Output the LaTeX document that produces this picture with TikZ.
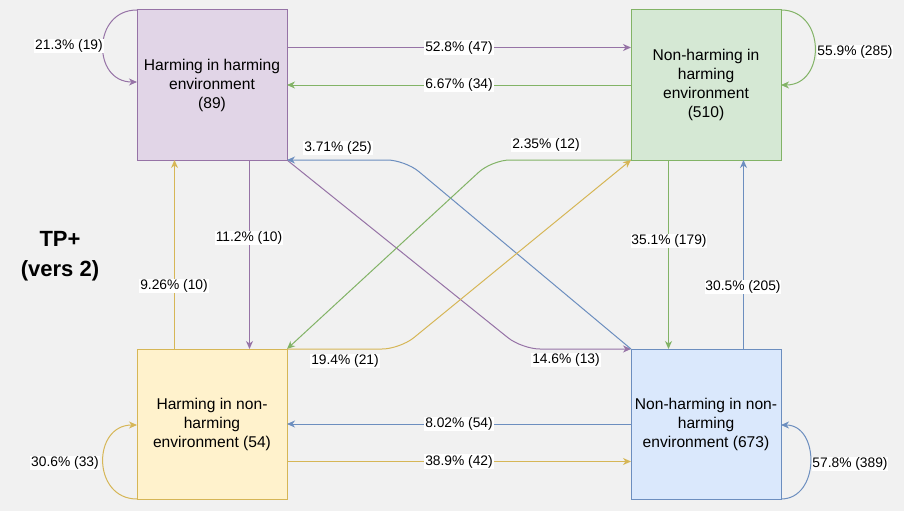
\documentclass[tikz,border=0pt]{standalone}
\usepackage{fontspec}
\setmainfont{Liberation Sans}
\usetikzlibrary{arrows.meta,calc}
\definecolor{bgc}{HTML}{F1F1F1}
\definecolor{pfill}{HTML}{E1D5E7}\definecolor{pline}{HTML}{9673A6}
\definecolor{gfill}{HTML}{D5E8D4}\definecolor{gline}{HTML}{82B366}
\definecolor{yfill}{HTML}{FFF2CC}\definecolor{yline}{HTML}{D6B656}
\definecolor{bfill}{HTML}{DAE8FC}\definecolor{bline}{HTML}{6C8EBF}
\tikzset{
  box/.style={draw, line width=1pt, minimum width=150pt, minimum height=150pt, outer sep=0pt, inner sep=0pt,
    align=center, font=\fontsize{15.6}{19}\selectfont},
  edge/.style={line width=1pt, -{Stealth[length=8pt,width=7pt,inset=2.5pt]}},
  lab/.style={fill=white, inner sep=0.8pt, font=\fontsize{13.8}{16}\selectfont},
}
\begin{document}
\begin{tikzpicture}[x=1pt,y=-1pt]
\fill[bgc] (0,0) rectangle (904,511);
\useasboundingbox (0,0) rectangle (904,511);

\node[box, fill=pfill, draw=pline] (a) at (212,85) {Harming in harming\\environment\\(89)};
\node[box, fill=gfill, draw=gline] (b) at (706,85) {Non-harming in\\harming\\environment\\(510)};
\node[box, fill=yfill, draw=yline] (c) at (212,424) {Harming in non-\\harming\\environment (54)};
\node[box, fill=bfill, draw=bline] (d) at (706,424) {Non-harming in non-\\harming\\environment (673)};

\node[font=\fontsize{22}{30}\selectfont\bfseries, align=center] (title) at (60,256) {TP+\\(vers 2)};

% horizontal edges
\draw[edge, pline] ($(a.north east)!.25!(a.south east)$) -- ($(b.north west)!.25!(b.south west)$)
  node[lab, text=black, midway] (l1) {52.8\% (47)};
\draw[edge, gline] ($(b.north west)!.5!(b.south west)$) -- ($(a.north east)!.5!(a.south east)$)
  node[lab, text=black, midway] (l2) {6.67\% (34)};
\draw[edge, bline] ($(d.north west)!.5!(d.south west)$) -- ($(c.north east)!.5!(c.south east)$)
  node[lab, text=black, midway] (l3) {8.02\% (54)};
\draw[edge, yline] ($(c.north east)!.75!(c.south east)$) -- ($(d.north west)!.75!(d.south west)$)
  node[lab, text=black, midway] (l4) {38.9\% (42)};

% vertical edges
\draw[edge, pline] ($(a.south west)!.75!(a.south east)$) -- ($(c.north west)!.75!(c.north east)$);
\node[lab] (l5) at (249,238) {11.2\% (10)};
\draw[edge, yline] ($(c.north west)!.25!(c.north east)$) -- ($(a.south west)!.25!(a.south east)$);
\node[lab] (l6) at (174,286) {9.26\% (10)};
\draw[edge, gline] ($(b.south west)!.25!(b.south east)$) -- ($(d.north west)!.25!(d.north east)$);
\node[lab] (l7) at (669,241) {35.1\% (179)};
\draw[edge, bline] ($(d.north west)!.75!(d.north east)$) -- ($(b.south west)!.75!(b.south east)$);
\node[lab] (l8) at (743,287) {30.5\% (205)};

% diagonal edges
\coordinate (wp1) at (522,349);
\coordinate (wp2) at (405,160);
\coordinate (wp3) at (492,160);
\coordinate (wp4) at (400,349);
\draw[edge, pline, rounded corners=18pt] (a.south east) -- (wp1) -- (d.north west);
\draw[edge, bline, rounded corners=18pt] (d.north west) -- (wp2) -- (a.south east);
\draw[edge, gline, rounded corners=18pt] (b.south west) -- (wp3) -- (c.north east);
\draw[edge, yline, rounded corners=18pt] (c.north east) -- (wp4) -- (b.south west);
\node[lab] (l9) at (338,148) {3.71\% (25)};
\node[lab] (l10) at (546,145) {2.35\% (12)};
\node[lab] (l11) at (345,361) {19.4\% (21)};
\node[lab] (l12) at (566,360) {14.6\% (13)};

% self loops
\draw[edge, pline] (a.north west) .. controls (92,10) and (92,82) .. (a.west |- {0,82});
\node[lab] (l13) at (69,46) {21.3\% (19)};
\draw[edge, gline] (b.north east) .. controls (826,10) and (826,85) .. (b.east |- {0,85});
\node[lab] (l14) at (855,52) {55.9\% (285)};
\draw[edge, yline] (c.south west) .. controls (92,499) and (92,425) .. (c.west |- {0,425});
\node[lab] (l15) at (65,463) {30.6\% (33)};
\draw[edge, bline] (d.south east) .. controls (820,499) and (820,425) .. (d.east |- {0,425});
\node[lab] (l16) at (850,464) {57.8\% (389)};
\end{tikzpicture}
\end{document}
